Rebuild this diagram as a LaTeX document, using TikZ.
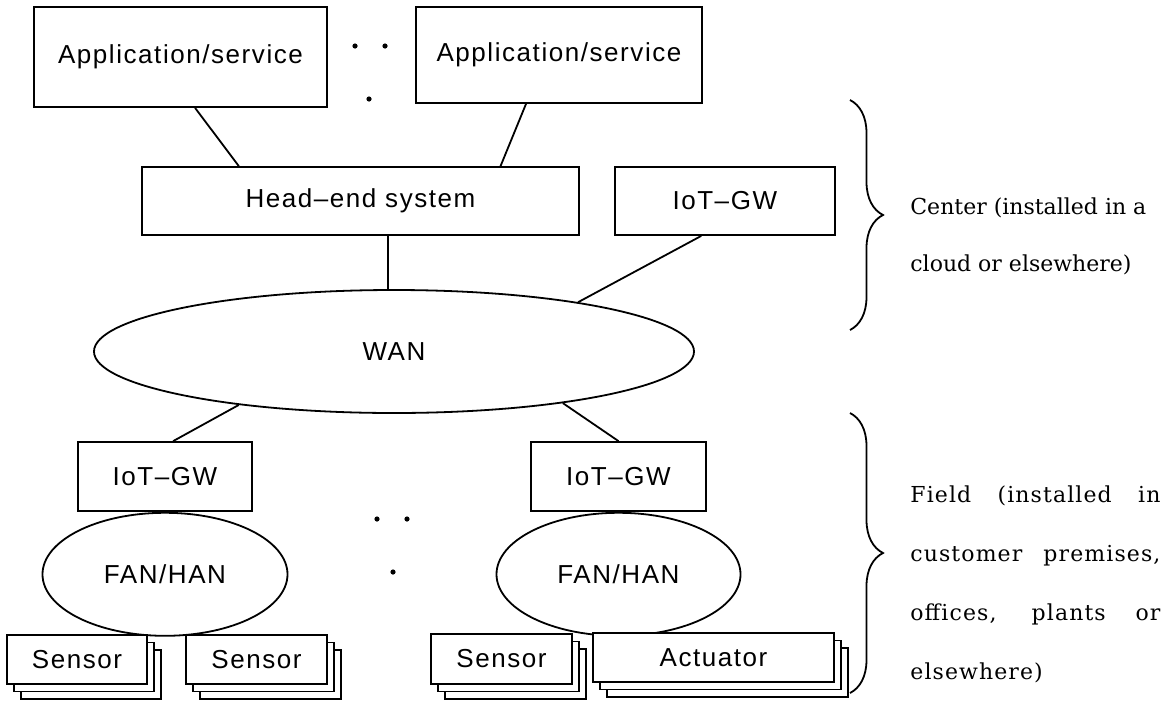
\documentclass[tikz,border=0pt]{standalone}
\usepackage{fontspec}
\usetikzlibrary{positioning,shapes.geometric,shadows,decorations.pathreplacing}
\newfontfamily\boxfont[LetterSpace=6]{Liberation Sans}
\newfontfamily\notefont{DejaVu Serif}
\newfontfamily\widenotefont[LetterSpace=5]{DejaVu Serif}

\begin{document}
\begin{tikzpicture}[
    x=0.5pt, y=-0.5pt,
    box/.style={draw, line width=0.9pt, fill=white, inner sep=0pt, font=\boxfont\fontsize{13}{15}\selectfont},
    net/.style={box, ellipse},
    pile/.style={box,
      general shadow={shadow xshift=7pt, shadow yshift=-7.5pt, fill=white, draw, line width=0.7pt},
      general shadow={shadow xshift=3.5pt, shadow yshift=-3.7pt, fill=white, draw, line width=0.7pt}},
    link/.style={line width=0.9pt},
    curly/.style={decorate, decoration={brace, amplitude=16.5pt}, line width=0.9pt},
    note/.style={inner sep=0pt, font=\notefont\fontsize{11}{28.5}\selectfont}
  ]
  \useasboundingbox (0,0) rectangle (1166,702);

  % center: applications, head-end and WAN
  \node[box, minimum width=146.5pt, minimum height=50pt] (app1) at (180.5,57) {Application/service};
  \node[box, minimum width=143pt, minimum height=48pt] (app2) at (559,55) {Application/service};
  \node[box, minimum width=218.5pt, minimum height=34pt] (head) at (360.5,201) {Head–end system};
  \node[box, minimum width=110pt, minimum height=34pt, right=17pt of head] (gw) {IoT–GW};
  \node[net, minimum width=300pt, minimum height=61.5pt] (wan) at (394,351.5) {WAN};

  % field: gateways, local networks and devices
  \node[box, minimum width=87pt, minimum height=34.5pt] (gwL) at (165,476.5) {IoT–GW};
  \node[box, minimum width=87.5pt, minimum height=34.5pt] (gwR) at (618.5,476.5) {IoT–GW};
  \node[net, minimum width=122.5pt, minimum height=61.5pt, below=0pt of gwL] (fanL) {FAN/HAN};
  \node[net, minimum width=122pt, minimum height=61.5pt, below=0pt of gwR] (fanR) {FAN/HAN};
  \node[pile, minimum width=70pt, minimum height=24.5pt] (sen1) at (77,659.5) {Sensor};
  \node[pile, minimum width=70.5pt, minimum height=24.5pt] (sen2) at (256.5,659.5) {Sensor};
  \node[pile, minimum width=70.5pt, minimum height=25pt] (sen3) at (501.5,659) {Sensor};
  \node[pile, minimum width=120.5pt, minimum height=24.5pt] (act) at (713.5,657.5) {Actuator};

  \draw[link] (app1.-74) -- (head.164);
  \draw[link] (app2.236) -- (head.14.4);
  \draw[link] (head.-52) -- (head.-52 |- wan.north);
  \draw[link] (gw.236) -- (wan.15.7);
  \draw[link] (wan.199.8) -- (gwL.77);
  \draw[link] (wan.-17.7) -- (gwR.north);

  % "more of the same" dots
  \foreach \p in {(355,46),(385,46),(369,99),(377,519),(407,519),(393,572)}
    \fill \p circle[radius=1.3pt];

  % braces and their notes
  \draw[curly] (850,100) -- (850,330);
  \draw[curly] (850,413) -- (850,693);
  \node[note, anchor=west, align=left] (centre) at (910,236) {Center (installed in a\\cloud or elsewhere)};
  \node[note, anchor=north west, text width=125pt, align=justify, font=\widenotefont\fontsize{11}{29.5}\selectfont] (field) at (910,485)
    {Field (installed in\linebreak customer premises,\linebreak offices, plants or\linebreak elsewhere)};
\end{tikzpicture}
\end{document}
